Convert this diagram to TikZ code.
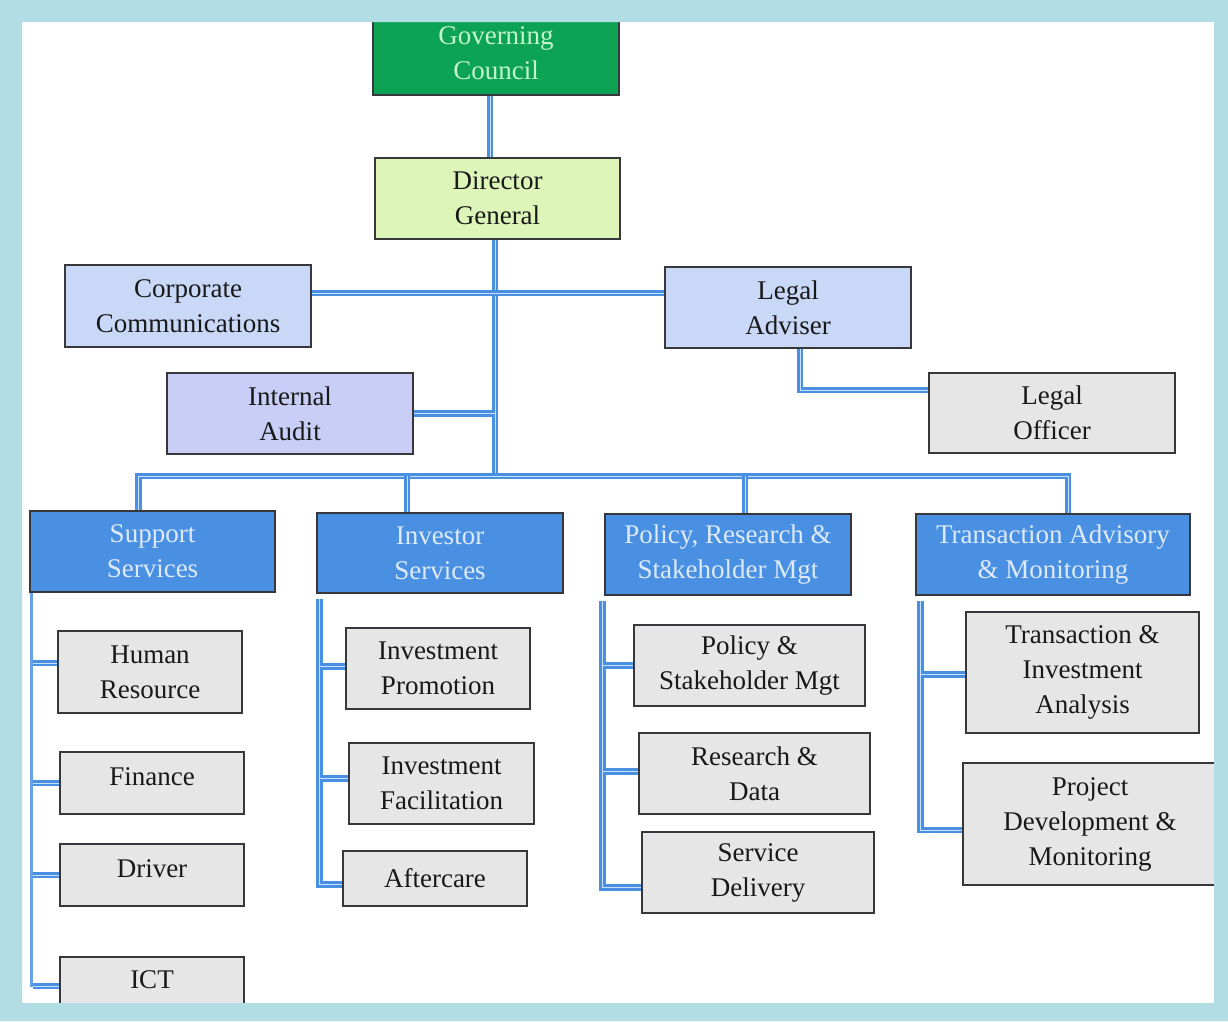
\documentclass[tikz,border=0pt]{standalone}
\usepackage{fontspec}
\setmainfont{Liberation Serif}
\definecolor{frameblue}{RGB}{178,221,229}
\definecolor{lineblue}{RGB}{74,144,226}
\definecolor{palelane}{RGB}{200,224,250}
\definecolor{hdrblue}{RGB}{74,144,226}
\definecolor{hdrtext}{RGB}{222,234,250}
\definecolor{gcgreen}{RGB}{12,163,84}
\definecolor{gctext}{RGB}{196,246,200}
\definecolor{dgfill}{RGB}{222,245,186}
\definecolor{staff}{RGB}{200,216,246}
\definecolor{audit}{RGB}{200,206,246}
\definecolor{unitgray}{RGB}{230,230,230}
\definecolor{edge}{RGB}{55,55,60}
\definecolor{ink}{RGB}{25,25,25}
\begin{document}
\begin{tikzpicture}[x=1pt,y=-1pt,
  box/.style={draw=edge, line width=1.3pt, inner sep=0pt, align=center, text=ink, font=\fontsize{27}{35}\selectfont},
  gov/.style={box, fill=gcgreen, text=gctext},
  dgbox/.style={box, fill=dgfill},
  staffbox/.style={box, fill=staff},
  auditbox/.style={box, fill=audit},
  dept/.style={box, fill=hdrblue, text=hdrtext},
  unit/.style={box, fill=unitgray},
  raised/.style={text height=18pt, text depth=14pt},
  conn/.style={draw=lineblue, line width=2.8pt, double=palelane, double distance=0.9pt},
  thinconn/.style={draw=lineblue!85, line width=2.8pt},
]
\useasboundingbox (0,0) rectangle (1228,1021);
\fill[white] (0,0) rectangle (1228,1021);

% top levels
\node[gov, minimum width=246pt, minimum height=84pt] (gc) at (496,53) {Governing\\Council};
\node[dgbox, minimum width=245pt, minimum height=81pt] (dg) at (497.5,198.5) {Director\\General};
\node[staffbox, minimum width=246pt, minimum height=82pt] (cc) at (188,306) {Corporate\\Communications};
\node[staffbox, minimum width=246pt, minimum height=81pt] (la) at (788,307.5) {Legal\\Adviser};
\node[auditbox, minimum width=246pt, minimum height=81pt] (ia) at (290,413.5) {Internal\\Audit};
\node[unit, minimum width=246pt, minimum height=80pt] (lo) at (1052,413) {Legal\\Officer};

% departments
\node[dept, minimum width=245pt, minimum height=81pt] (ss) at (152.5,551.5) {Support\\Services};
\node[dept, minimum width=246pt, minimum height=80pt] (is) at (440,553) {Investor\\Services};
\node[dept, minimum width=246pt, minimum height=81pt] (pr) at (728,554.5) {Policy, Research \&\\Stakeholder Mgt};
\node[dept, minimum width=274pt, minimum height=81pt] (ta) at (1053,554.5) {Transaction Advisory\\\& Monitoring};

% units
\node[unit, minimum width=184pt, minimum height=82pt] (hr) at (150,672) {Human\\Resource};
\node[unit, raised, minimum width=184pt, minimum height=62pt] (fi) at (152,783) {Finance};
\node[unit, raised, minimum width=184pt, minimum height=62pt] (dr) at (152,875) {Driver};
\node[unit, raised, minimum width=184pt, minimum height=58pt] (ict) at (152,986) {ICT};

\node[unit, minimum width=184pt, minimum height=81pt] (ip) at (438,668.5) {Investment\\Promotion};
\node[unit, minimum width=185pt, minimum height=81pt] (if) at (441.5,783.5) {Investment\\Facilitation};
\node[unit, minimum width=184pt, minimum height=55pt] (ac) at (435,878.5) {Aftercare};

\node[unit, minimum width=231pt, minimum height=81pt] (ps) at (749.5,665.5) {Policy \&\\Stakeholder Mgt};
\node[unit, minimum width=231pt, minimum height=81pt] (rd) at (754.5,773.5) {Research \&\\Data};
\node[unit, minimum width=232pt, minimum height=81pt] (sd) at (758,872.5) {Service\\Delivery};

\node[unit, minimum width=233pt, minimum height=121pt] (ti) at (1082.5,672.5) {Transaction \&\\Investment\\Analysis};
\node[unit, minimum width=254pt, minimum height=122pt] (pd) at (1090,824) {Project\\Development \&\\Monitoring};

% connectors, top part
\coordinate (bus) at (495,476);
\draw[conn] ([xshift=-6pt]gc.south) -- ([xshift=-6pt]gc.south |- dg.north);
\draw[conn] ([xshift=-2.5pt]dg.south) -- ([xshift=-2.5pt]dg.south |- bus);
\draw[conn] ([yshift=13pt]cc.east) -- ([yshift=13pt]cc.east -| la.west);
\draw[conn] (ia.east) -- (ia.east -| bus);
\draw[conn] ([xshift=12pt]la.south) |- ([yshift=23pt]lo.west);
\draw[conn] ([xshift=-14pt]ss.north) |- ([xshift=15pt]ta.north |- bus) -- ([xshift=15pt]ta.north);
\draw[conn] ([xshift=-33pt]is.north) -- ([xshift=-33pt]is.north |- bus);
\draw[conn] ([xshift=17pt]pr.north) -- ([xshift=17pt]pr.north |- bus);

% support services column
\coordinate (c1) at (33,700);
\draw[thinconn] ([xshift=2pt]ss.south west) |- (ict.west);
\draw[conn] ([yshift=9pt]hr.west) -- ([yshift=9pt]hr.west -| c1);
\draw[conn] (fi.west) -- (fi.west -| c1);
\draw[conn] (dr.west) -- (dr.west -| c1);
\draw[conn] (ict.west) -- (ict.west -| c1);

% investor services column
\coordinate (c2) at (320,700);
\draw[conn] ([xshift=3pt,yshift=-5pt]is.south west) |- ([yshift=-6pt]ac.west);
\draw[conn] ([yshift=2pt]ip.west) -- ([yshift=2pt]ip.west -| c2);
\draw[conn] ([yshift=5pt]if.west) -- ([yshift=5pt]if.west -| c2);

% policy column
\coordinate (c3) at (603,700);
\draw[conn] ([xshift=-2pt,yshift=-5pt]pr.south west) |- ([yshift=-15pt]sd.west);
\draw[conn] (ps.west) -- (ps.west -| c3);
\draw[conn] ([yshift=2pt]rd.west) -- ([yshift=2pt]rd.west -| c3);

% transaction column
\coordinate (c4) at (921,700);
\draw[conn] ([xshift=5pt,yshift=-5pt]ta.south west) |- ([yshift=-6pt]pd.west);
\draw[conn] ([yshift=-2pt]ti.west) -- ([yshift=-2pt]ti.west -| c4);

% frame
\fill[frameblue, even odd rule] (0,0) rectangle (1228,1021) (22,22) rectangle (1214,1003);
\end{tikzpicture}
\end{document}
